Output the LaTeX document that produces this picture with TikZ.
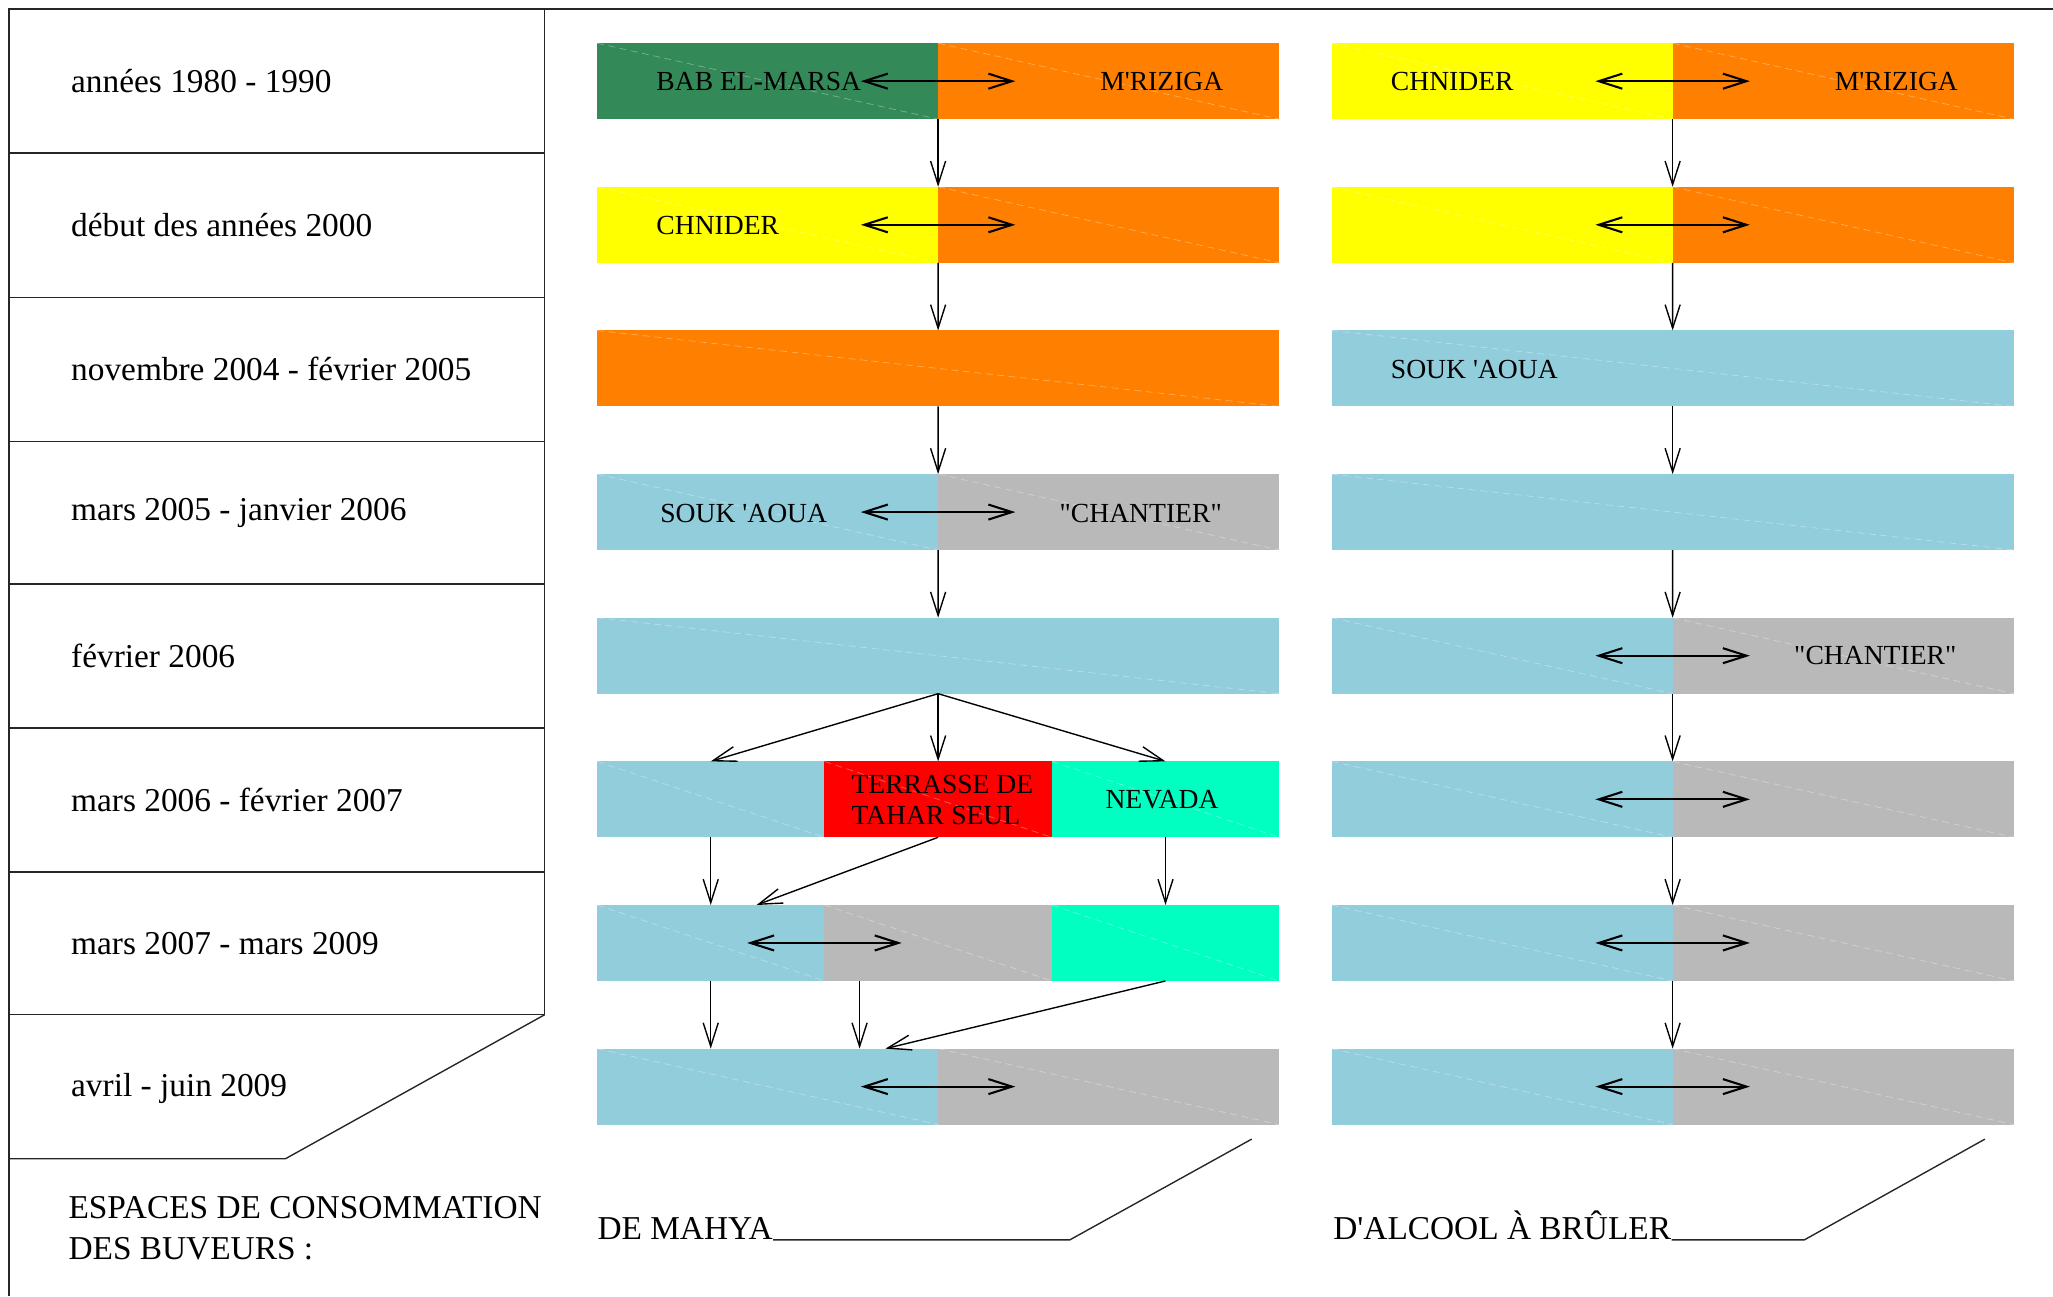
\documentclass[tikz,border=0pt]{standalone}
\usepackage{fontspec}
\newfontfamily\lsf{Liberation Serif}
\usetikzlibrary{arrows.meta,calc}
\definecolor{cgreen}{RGB}{52,137,89}
\definecolor{corange}{RGB}{255,128,0}
\definecolor{cyellow}{RGB}{255,255,0}
\definecolor{cblue}{RGB}{146,205,220}
\definecolor{cgrey}{RGB}{185,185,185}
\definecolor{cred}{RGB}{255,0,0}
\definecolor{caqua}{RGB}{0,255,192}
\begin{document}
\begin{tikzpicture}[x=0.02cm,y=-0.02cm,
  seg/.style={inner sep=0pt, outer sep=0pt, minimum height=1.16cm, draw=none},
  half/.style={seg, minimum width=5.21cm},
  full/.style={seg, minimum width=10.42cm},
  third/.style={seg, minimum width=3.4734cm},
  diag/.style={draw=white, opacity=0.35, dash pattern=on 3pt off 2pt, line width=0.3pt},
  btxt/.style={font=\lsf\fontsize{12}{13.6}\selectfont, inner sep=0pt, anchor=west},
  ltxt/.style={font=\lsf\fontsize{14.5}{17.5}\selectfont, inner sep=0pt, anchor=west, align=left},
  tab/.style={draw=black!85, line width=0.6pt},
  barb/.tip={Straight Barb[length=0.36cm,width=0.23cm]},
  varr/.style={-barb, line width=0.6pt},
  dbl/.style={barb-barb, line width=0.9pt}
]
\useasboundingbox (0,0) rectangle (1568,990);

% ---------- left table ----------
\draw[tab] (1568,7) -- (7,7) -- (7,990);
\draw[tab] (416,7) -- (416,775);
\foreach \yy in {117,227,337,446,556,666,775}
  \draw[tab] (7,\yy) -- (416,\yy);
\draw[tab] (416,775) -- (218,885) -- (7,885);

\node[ltxt] (d1) at (54,62)  {années 1980 - 1990};
\node[ltxt] (d2) at (54,172) {début des années 2000};
\node[ltxt] (d3) at (54,282) {novembre 2004 - février 2005};
\node[ltxt] (d4) at (54,392) {mars 2005 - janvier 2006};
\node[ltxt] (d5) at (54,501) {février 2006};
\node[ltxt] (d6) at (54,611) {mars 2006 - février 2007};
\node[ltxt] (d7) at (54,721) {mars 2007 - mars 2009};
\node[ltxt] (d8) at (54,831) {avril - juin 2009};
\node[ltxt] (esp) at (52,938) {ESPACES DE CONSOMMATION\\DES BUVEURS :};

% ---------- left column bars ----------
\node[half, fill=cgreen]  (L1a) at (586.25,62) {};
\node[half, fill=corange] (L1b) at (846.75,62) {};
\node[half, fill=cyellow] (L2a) at (586.25,171.7) {};
\node[half, fill=corange] (L2b) at (846.75,171.7) {};
\node[full, fill=corange] (L3)  at (716.5,281.4) {};
\node[half, fill=cblue]   (L4a) at (586.25,391.1) {};
\node[half, fill=cgrey]   (L4b) at (846.75,391.1) {};
\node[full, fill=cblue]   (L5)  at (716.5,500.8) {};
\node[third, fill=cblue]  (L6a) at (542.83,610.5) {};
\node[third, fill=cred]   (L6b) at (716.5,610.5) {};
\node[third, fill=caqua]  (L6c) at (890.17,610.5) {};
\node[third, fill=cblue]  (L7a) at (542.83,720.2) {};
\node[third, fill=cgrey]  (L7b) at (716.5,720.2) {};
\node[third, fill=caqua]  (L7c) at (890.17,720.2) {};
\node[half, fill=cblue]   (L8a) at (586.25,829.9) {};
\node[half, fill=cgrey]   (L8b) at (846.75,829.9) {};

% ---------- right column bars ----------
\node[half, fill=cyellow] (R1a) at (1147.25,62) {};
\node[half, fill=corange] (R1b) at (1407.75,62) {};
\node[half, fill=cyellow] (R2a) at (1147.25,171.7) {};
\node[half, fill=corange] (R2b) at (1407.75,171.7) {};
\node[full, fill=cblue]   (R3)  at (1277.5,281.4) {};
\node[full, fill=cblue]   (R4)  at (1277.5,391.1) {};
\node[half, fill=cblue]   (R5a) at (1147.25,500.8) {};
\node[half, fill=cgrey]   (R5b) at (1407.75,500.8) {};
\node[half, fill=cblue]   (R6a) at (1147.25,610.5) {};
\node[half, fill=cgrey]   (R6b) at (1407.75,610.5) {};
\node[half, fill=cblue]   (R7a) at (1147.25,720.2) {};
\node[half, fill=cgrey]   (R7b) at (1407.75,720.2) {};
\node[half, fill=cblue]   (R8a) at (1147.25,829.9) {};
\node[half, fill=cgrey]   (R8b) at (1407.75,829.9) {};

% faint diagonals
\foreach \n in {L1a,L1b,L2a,L2b,L3,L4a,L4b,L5,L6a,L6b,L6c,L7a,L7b,L7c,L8a,L8b,
                R1a,R1b,R2a,R2b,R3,R4,R5a,R5b,R6a,R6b,R7a,R7b,R8a,R8b}
  \draw[diag] (\n.north west) -- (\n.south east);

% ---------- bar texts ----------
\node[btxt] (tBab)  at (501,62)  {BAB EL-MARSA};
\node[btxt] (tMri)  at (840,62)  {M'RIZIGA};
\node[btxt] (tChn)  at (501,172) {CHNIDER};
\node[btxt] (tSou)  at (504,392) {SOUK 'AOUA};
\node[btxt] (tCha)  at (809,392) {"CHANTIER"};
\node[btxt, align=left] (tTer) at (650,611) {TERRASSE DE\\TAHAR SEUL};
\node[btxt] (tNev)  at (844,611) {NEVADA};
\node[btxt] (tChnR) at (1062,62)  {CHNIDER};
\node[btxt] (tMriR) at (1401,62)  {M'RIZIGA};
\node[btxt] (tSouR) at (1062,282) {SOUK 'AOUA};
\node[btxt] (tChaR) at (1370,501) {"CHANTIER"};

% ---------- double arrows ----------
\foreach \n in {L1a,L2a,L4a,L8a,R1a,R2a,R5a,R6a,R7a,R8a}
  \draw[dbl] ($(\n.east)+(-59,0)$) -- ($(\n.east)+(59,0)$);
\draw[dbl] ($(L7a.east)+(-59,0)$) -- ($(L7a.east)+(59,0)$);

% ---------- vertical arrows, left ----------
\draw[varr] (L1a.south east) -- (L2a.north east);
\draw[varr] (L2a.south east) -- (L3.north);
\draw[varr] (L3.south) -- (L4a.north east);
\draw[varr] (L4a.south east) -- (L5.north);
\draw[varr] (L5.south) -- (L6a.north);
\draw[varr] (L5.south) -- (L6b.north);
\draw[varr] (L5.south) -- (L6c.north);
\draw[varr] (L6a.south) -- (L7a.north);
\draw[varr] (L6b.south) -- ([xshift=0.7cm]L7a.north);
\draw[varr] (L6c.south) -- (L7c.north);
\draw[varr] (L7a.south) -- (L7a.south |- L8a.north);
\coordinate (m7) at ([xshift=-1.2cm]L7b.south);
\draw[varr] (m7) -- (m7 |- L8a.north);
\draw[varr] (L7c.south) -- ([xshift=1.8cm]L8a.north);

% ---------- vertical arrows, right ----------
\draw[varr] (R1a.south east) -- (R2a.north east);
\draw[varr] (R2a.south east) -- (R3.north);
\draw[varr] (R3.south) -- (R4.north);
\draw[varr] (R4.south) -- (R5a.north east);
\draw[varr] (R5a.south east) -- (R6a.north east);
\draw[varr] (R6a.south east) -- (R7a.north east);
\draw[varr] (R7a.south east) -- (R8a.north east);

% ---------- bottom labels ----------
\node[ltxt, anchor=base west] (mahya) at (456,947) {DE MAHYA};
\node[ltxt, anchor=base west] (alcool) at (1018,947) {D'ALCOOL À BRÛLER};
\coordinate (m1) at (817,947);
\coordinate (m2) at (956,870);
\coordinate (a1) at (1378,947);
\coordinate (a2) at (1516,870);
\draw[tab] (mahya.base east) -- (m1) -- (m2);
\draw[tab] (alcool.base east) -- (a1) -- (a2);
\end{tikzpicture}
\end{document}
